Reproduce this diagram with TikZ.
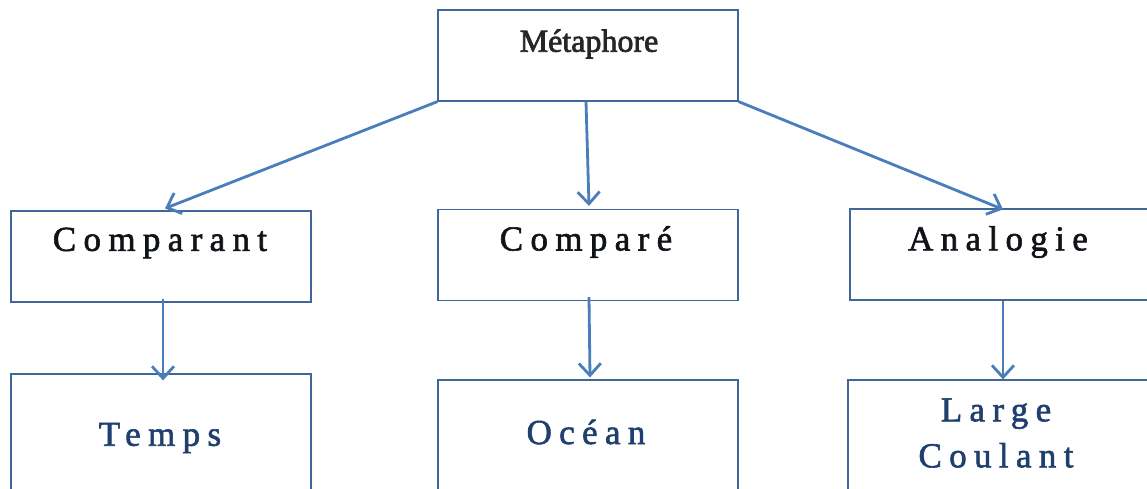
\documentclass[tikz,border=0pt]{standalone}
\usepackage{fontspec}
\setmainfont{Liberation Serif}
\newfontfamily\labelfont[LetterSpace=21]{Liberation Serif}
\usetikzlibrary{arrows.meta,calc}
\definecolor{boxline}{HTML}{41679A}
\definecolor{arrowblue}{HTML}{4A7EBB}
\definecolor{inkdark}{HTML}{101418}
\definecolor{inknavy}{HTML}{1F3F6E}
\definecolor{inkgray}{HTML}{262626}
% slightly heavier letters: fill plus a thin stroke in the same ink
\newcommand\heavydark{\special{pdf:literal direct 2 Tr 0.6 w 0.063 0.078 0.094 RG}}
\newcommand\heavynavy{\special{pdf:literal direct 2 Tr 0.6 w 0.122 0.247 0.431 RG}}
\newcommand\heavygray{\special{pdf:literal direct 2 Tr 0.7 w 0.15 0.15 0.15 RG}}
\newcommand\heavyoff{\special{pdf:literal direct 0 Tr}}
\tikzset{
  box/.style={draw=boxline, line width=1.2pt, minimum width=300pt, minimum height=91pt, inner sep=0pt},
  link/.style={draw=arrowblue, line width=2.8pt, -{Straight Barb[length=12pt,width=22pt,line width=2.8pt]}},
  lbl/.style={font=\labelfont\fontsize{35}{42}\selectfont, align=center, inner sep=0pt},
}
\begin{document}
\begin{tikzpicture}[x=1pt,y=-1pt]
\useasboundingbox (0,0) rectangle (1147,488);
\clip (0,0) rectangle (1147,488);
\fill[white] (0,0) rectangle (1147,488);

% boxes
\node[box] (m) at (588,55.5) {};
\node[box] (cpt) at (161,256.5) {};
\node[box] (cpe) at (588,255) {};
\node[box, minimum width=306pt] (ana) at (1003,254.5) {};
\node[box, minimum height=130pt] (tps) at (161,439) {};
\node[box, minimum height=130pt] (oce) at (588,445) {};
\node[box, minimum width=306pt, minimum height=130pt] (lc) at (1001,445) {};

% labels
\node[font=\fontsize{32}{38}\selectfont, text=inkgray, inner sep=0pt] (mt) at (589,44) {\heavygray Métaphore\heavyoff};
\node[lbl, text=inkdark] (tcpt) at (160,243) {\heavydark Comparant\heavyoff};
\node[lbl, text=inkdark] (tcpe) at (586,242) {\heavydark Comparé\heavyoff};
\node[lbl, text=inkdark] (tana) at (998,242) {\heavydark Analogie\heavyoff};
\node[lbl, text=inknavy] (ttps) at (160,438) {\heavynavy Temps\heavyoff};
\node[lbl, text=inknavy] (toce) at (586,432) {\heavynavy Océan\heavyoff};
\node[lbl, text=inknavy] (tlc) at (996,433) {\heavynavy Large\\[4pt]Coulant\heavyoff};

% connectors
\draw[link] (m.south west) -- ($(cpt.north)+(4,-2)$);
\draw[link] ($(m.south)+(-2,0)$) -- ($(cpe.north)+(1,-3)$);
\draw[link] (m.south east) -- ($(ana.north)+(0,1)$);
\draw[link] ($(cpt.south)+(2,-4)$) -- ($(tps.north)+(2,7)$);
\draw[link] ($(cpe.south)+(1,-4)$) -- ($(oce.north)+(2,-2)$);
\draw[link] (ana.south) -- ($(lc.north)+(2,0)$);
\end{tikzpicture}
\end{document}
